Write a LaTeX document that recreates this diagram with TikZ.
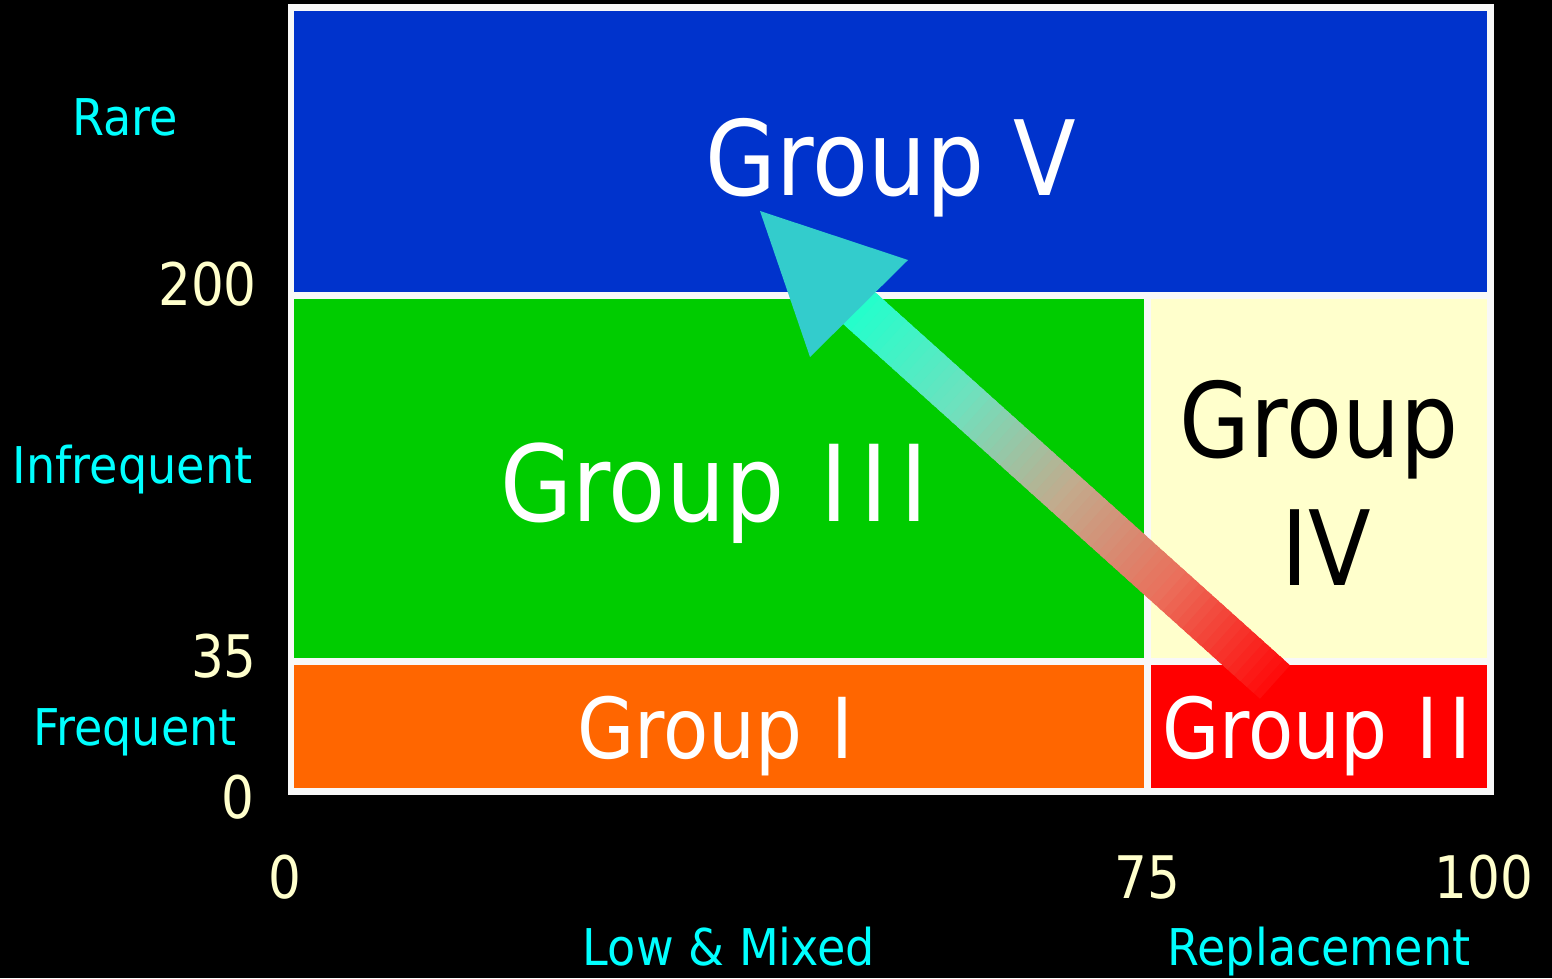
\documentclass[tikz,border=0pt]{standalone}
\usepackage{fontspec}
\setmainfont{DejaVu Sans}[FakeStretch=0.88]
\newfontfamily\lblfont{DejaVu Sans}[FakeStretch=0.91]
\usetikzlibrary{calc}
\definecolor{blueg}{RGB}{0,51,204}
\definecolor{greeng}{RGB}{0,204,0}
\definecolor{creamg}{RGB}{255,255,204}
\definecolor{orangeg}{RGB}{255,102,0}
\definecolor{redg}{RGB}{255,0,0}
\definecolor{framec}{RGB}{248,248,248}
\definecolor{cyanlbl}{RGB}{0,255,255}
\definecolor{numc}{RGB}{255,255,204}
\definecolor{headc}{RGB}{51,204,204}
\definecolor{g0}{RGB}{255,10,10}
\definecolor{g1}{RGB}{235,110,90}
\definecolor{g2}{RGB}{195,170,140}
\definecolor{g3}{RGB}{110,225,190}
\definecolor{g4}{RGB}{34,255,204}
\tikzset{
  frameline/.style={draw=framec, line width=5.2pt},
  biglbl/.style={text=white, font=\fontsize{78}{94}\selectfont, inner sep=0, anchor=base},
  midlbl/.style={text=white, font=\fontsize{63}{76}\selectfont, inner sep=0, anchor=base west},
  axlbl/.style={text=cyanlbl, font=\lblfont\fontsize{38}{46}\selectfont, inner sep=0, anchor=base},
  numlbl/.style={text=numc, font=\fontsize{44}{52}\selectfont, inner sep=0, anchor=base}
}
\begin{document}
\begin{tikzpicture}[x=0.75pt,y=-0.75pt]
\fill[black] (0,0) rectangle (1552,978);
\useasboundingbox (0,0) rectangle (1552,978);
% regions
\fill[blueg] (291,8) rectangle (1491,295.5);
\fill[greeng] (291,295.5) rectangle (1147.5,661.5);
\fill[creamg] (1147.5,295.5) rectangle (1491,661.5);
\fill[orangeg] (291,661.5) rectangle (1147.5,791.5);
\fill[redg] (1147.5,661.5) rectangle (1491,791.5);
% white frame and dividers
\draw[frameline] (291,7.5) rectangle (1490.5,791.5);
\draw[frameline] (291,295.5) -- (1490.5,295.5);
\draw[frameline] (291,661.5) -- (1490.5,661.5);
\draw[frameline] (1147.5,295.5) -- (1147.5,791.5);
% group labels
\node[biglbl] (gV) at (891,195) {Group V};
\node[biglbl, anchor=base west, font=\fontsize{79.5}{94}\selectfont] (gIII) at (500,521) {Group\hspace{27pt}I\hspace{9.4pt}I\hspace{9.4pt}I};
\node[biglbl, text=black] (gIVa) at (1319,457) {Group};
\node[biglbl, text=black] (gIVb) at (1326,585) {IV};
\node[midlbl] (gI) at (577,758) {Group\hspace{22pt}I};
\node[midlbl] (gII) at (1162,758) {Group\hspace{22pt}I\hspace{8pt}I};
% arrow
\coordinate (T) at (1275,682);
\coordinate (B) at (859,308);
\coordinate (n) at (15.04,-16.73);
\coordinate (P) at (760,211);
\coordinate (H1) at (908,260);
\coordinate (H2) at (810,357);
\foreach \i in {0,...,63}{
  \pgfmathtruncatemacro\seg{\i/16}
  \pgfmathtruncatemacro\q{100*(\i+0.5-16*\seg)/16}
  \pgfmathtruncatemacro\nx{\seg+1}
  \colorlet{cc}{g\nx!\q!g\seg}
  \pgfmathsetmacro\ta{\i/64}
  \pgfmathsetmacro\tb{(\i+1.6)/64}
  \fill[cc] ($(T)!\ta!(B)+(n)$) -- ($(T)!\tb!(B)+(n)$) -- ($(T)!\tb!(B)-(n)$) -- ($(T)!\ta!(B)-(n)$) -- cycle;
}
\fill[headc] (P) -- (H1) -- (H2) -- cycle;
% axis labels
\node[axlbl] (rare) at (125,135) {Rare};
\node[axlbl] (infreq) at (132.5,483) {Infrequent};
\node[axlbl] (freq) at (135,745) {Frequent};
\node[numlbl, anchor=base east] (n200) at (257,305) {200};
\node[numlbl, anchor=base east] (n35) at (257,677) {35};
\node[numlbl] (n0y) at (238,818) {0};
\node[numlbl] (n0x) at (285,898) {0};
\node[numlbl] (n75) at (1147,898) {75};
\node[numlbl] (n100) at (1484,898) {100};
\node[axlbl] (lowmix) at (729,965) {Low \& Mixed};
\node[axlbl] (repl) at (1319,965) {Replacement};
\end{tikzpicture}
\end{document}
